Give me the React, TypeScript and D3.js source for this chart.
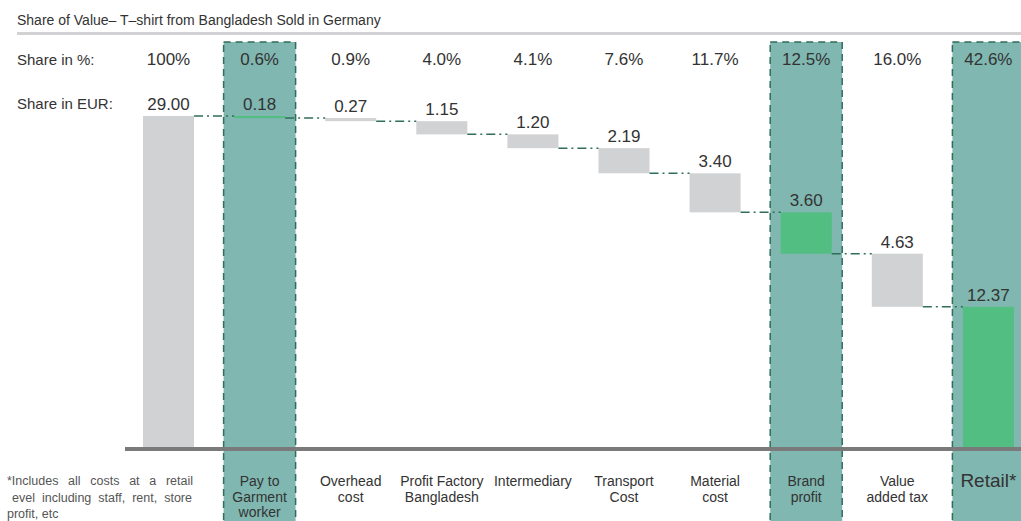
import React, { useEffect, useRef } from "react";
import * as d3 from "d3";

const categories = ["Total", "Pay to|Garment|worker", "Overhead|cost", "Profit Factory|Bangladesh", "Intermediary", "Transport|Cost", "Material|cost", "Brand|profit", "Value|added tax", "Retail*"];
const shareEUR = [29.0, 0.18, 0.27, 1.15, 1.2, 2.19, 3.4, 3.6, 4.63, 12.37];
const sharePct = [100, 0.6, 0.9, 4.0, 4.1, 7.6, 11.7, 12.5, 16.0, 42.6];
const highlighted = [false, true, false, false, false, false, false, true, false, true];
const footnote = ["*Includes all costs at a retail", "evel including staff, rent, store", "profit, etc"];
const title = "Share of Value\u2013 T\u2013shirt from Bangladesh Sold in Germany";

const W = 1021, H = 521;
const FONT = "'Liberation Sans', Arial, Helvetica, sans-serif";

export default function App() {
  const footRef = useRef<SVGGElement>(null);
  const x = d3.scaleBand<string>().domain(categories).range([143, 1013.9]).paddingInner(0.44).paddingOuter(0);
  const y = d3.scaleLinear().domain([0, 29]).range([449, 116]);
  const bw = x.bandwidth();

  useEffect(() => {
    if (!footRef.current) return;
    const g = d3.select(footRef.current);
    g.selectAll<SVGTextElement, unknown>("text.just").each(function () {
      const el = this;
      const target = +(el.getAttribute("data-w") || 0);
      el.setAttribute("word-spacing", "0");
      const len = el.getComputedTextLength();
      const gaps = (el.textContent || "").trim().split(/\s+/).length - 1;
      if (gaps > 0) el.setAttribute("word-spacing", String((target - len) / gaps));
    });
  }, []);

  let running = shareEUR[0];
  const segs = shareEUR.map((v, i) => {
    if (i === 0) return { top: v, bottom: 0 };
    const top = running;
    const bottom = Math.max(0, running - v);
    running = running - v;
    return { top, bottom };
  });

  const colW = 72;

  return (
    <svg width={W} height={H} style={{ position: "absolute", left: 0, top: 0, background: "#fff" }} fontFamily={FONT}>
      <text x={17} y={25} fontSize={14} fill="#333">{title}</text>
      <rect x={17} y={32} width={W - 17} height={3} fill="#d2d2d4" />

      {categories.map((c, i) => highlighted[i] ? (
        <rect key={"hl" + i} x={(x(c) as number) + bw / 2 - colW / 2} y={42} width={colW} height={H} fill="#80b7b1" stroke="#2f6e58" strokeWidth={1.5} strokeDasharray="7,5" />
      ) : null)}

      {categories.map((c, i) => {
        const s = segs[i];
        const isGreen = i > 0 && highlighted[i];
        return (
          <rect key={"b" + i} x={x(c) as number} y={y(s.top)} width={bw} height={Math.max(2, y(s.bottom) - y(s.top))} fill={isGreen ? "#52be82" : "#d1d2d4"} />
        );
      })}

      {categories.slice(0, -1).map((c, i) => {
        const next = categories[i + 1];
        const lvl = segs[i + 1].top;
        return (
          <line key={"cn" + i} x1={(x(c) as number) + bw} x2={x(next) as number} y1={y(lvl)} y2={y(lvl)} stroke="#2f6e58" strokeWidth={1.5} strokeDasharray="9,4,2,4" />
        );
      })}

      <rect x={125} y={447} width={W - 125} height={4} fill="#7a7a7a" />

      <text x={17} y={65} fontSize={15} fill="#333">Share in %:</text>
      <text x={17} y={109} fontSize={15} fill="#333">Share in EUR:</text>

      {categories.map((c, i) => {
        const cx = (x(c) as number) + bw / 2;
        const pct = sharePct[i] === 100 ? "100%" : sharePct[i].toFixed(1) + "%";
        return (
          <g key={"t" + i}>
            <text x={cx} y={65} fontSize={17} textAnchor="middle" fill="#333">{pct}</text>
            <text x={cx} y={y(segs[i].top) - 6} fontSize={17} textAnchor="middle" fill="#333">{shareEUR[i].toFixed(2)}</text>
          </g>
        );
      })}

      {categories.map((c, i) => {
        if (i === 0) return null;
        const cx = (x(c) as number) + bw / 2;
        if (c === "Retail*") {
          return <text key={"cl" + i} x={cx} y={487} fontSize={19} textAnchor="middle" fill="#333">{c}</text>;
        }
        return (
          <text key={"cl" + i} x={cx} y={486} fontSize={14} textAnchor="middle" fill="#333">
            {c.split("|").map((ln, k) => (
              <tspan key={k} x={cx} dy={k === 0 ? 0 : 15.5}>{ln}</tspan>
            ))}
          </text>
        );
      })}

      <g ref={footRef} fontSize={12.5} fill="#555">
        <text className="just" data-w={186} x={7} y={485}>{footnote[0]}</text>
        <text className="just" data-w={180} x={12} y={502}>{footnote[1]}</text>
        <text x={7} y={518}>{footnote[2]}</text>
      </g>
    </svg>
  );
}
